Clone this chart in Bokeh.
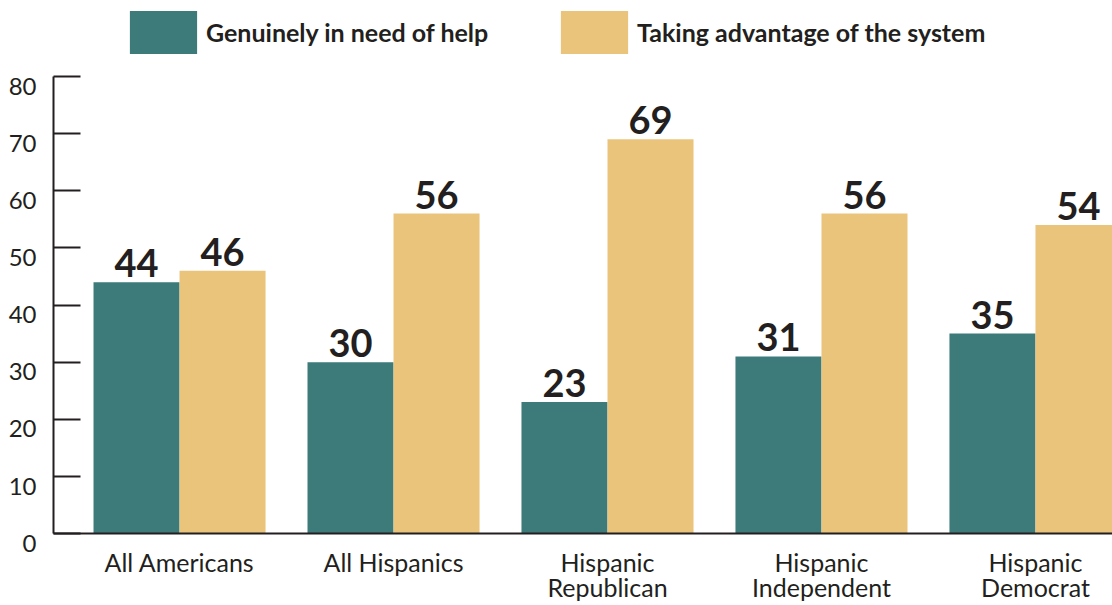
from bokeh.plotting import figure
from bokeh.models import ColumnDataSource, Range1d, FixedTicker, LabelSet
from bokeh.core.properties import value
from bokeh.transform import dodge
from bokeh.embed import file_html
from bokeh.resources import INLINE

categories = ["All Americans", "All Hispanics", "Hispanic Republican", "Hispanic Independent", "Hispanic Democrat"]
tick_labels = ["All Americans", "All Hispanics", "Hispanic\nRepublican", "Hispanic\nIndependent", "Hispanic\nDemocrat"]
series_names = ["Genuinely in need of help", "Taking advantage of the system"]
need_help = [44, 30, 23, 31, 35]
advantage = [46, 56, 69, 56, 54]
y_ticks = [0, 10, 20, 30, 40, 50, 60, 70, 80]

TEAL = "#3d7a7a"
GOLD = "#ebc47c"
INK = "#231f20"

idx = list(range(len(categories)))
src = ColumnDataSource(dict(
    x=idx,
    need=need_help,
    adv=advantage,
    need_txt=[str(v) for v in need_help],
    adv_txt=[str(v) for v in advantage],
))

# frame spans canvas y 0..533; value 80 sits at y=76 (legend lives in the headroom)
y_top = 80 + 76 / (457 / 80)
p = figure(width=1112, height=605, output_backend="svg", toolbar_location=None,
           x_range=Range1d(-0.589, 4.36), y_range=Range1d(0, y_top),
           min_border_left=53, min_border_right=0, min_border_top=0, min_border_bottom=72)
p.outline_line_color = None
p.xgrid.grid_line_color = None
p.ygrid.grid_line_color = None
p.background_fill_color = "white"

bw = 0.402
p.vbar(x=dodge("x", -0.201, range=p.x_range), top="need", width=bw, bottom=0, source=src,
       fill_color=TEAL, line_color=None, legend_label=series_names[0])
p.vbar(x=dodge("x", 0.201, range=p.x_range), top="adv", width=bw, bottom=0, source=src,
       fill_color=GOLD, line_color=None, legend_label=series_names[1])

for fld, off in (("need_txt", -0.201), ("adv_txt", 0.201)):
    ycol = "need" if fld == "need_txt" else "adv"
    p.add_layout(LabelSet(x=dodge("x", off, range=p.x_range), y=ycol, text=fld, source=src,
                          text_align="center", text_baseline="alphabetic", y_offset=5,
                          text_font=value("Lato"), text_font_style="bold", text_font_size="38px",
                          text_color=INK))

# y axis
ya = p.yaxis[0]
ya.bounds = (0, 80)
ya.ticker = FixedTicker(ticks=y_ticks)
ya.major_label_overrides = {v: "\n" + str(v) for v in y_ticks}
ya.major_label_text_line_height = 0.6
ya.minor_tick_line_color = None
ya.major_tick_in = 27
ya.major_tick_out = 0
ya.major_tick_line_width = 2
ya.major_tick_line_color = INK
ya.axis_line_width = 2
ya.axis_line_color = INK
ya.major_label_standoff = 17
ya.major_label_text_font = "Lato"
ya.major_label_text_font_size = "24px"
ya.major_label_text_color = INK

# x axis
xa = p.xaxis[0]
xa.ticker = FixedTicker(ticks=idx)
xa.major_label_overrides = {i: lab for i, lab in zip(idx, tick_labels)}
xa.minor_tick_line_color = None
xa.major_tick_line_color = None
xa.major_tick_in = 0
xa.major_tick_out = 0
xa.axis_line_width = 2
xa.axis_line_color = INK
xa.major_label_standoff = 13
xa.major_label_text_font = "Lato"
xa.major_label_text_font_size = "25px"
xa.major_label_text_line_height = 0.85
xa.major_label_text_color = INK

# legend in the headroom above the 80 mark
lg = p.legend[0]
lg.orientation = "horizontal"
lg.location = (68, 474)
lg.glyph_width = 84
lg.glyph_height = 54
lg.label_standoff = 1
lg.label_width = 300
lg.spacing = 46
lg.padding = 0
lg.margin = 0
lg.border_line_color = None
lg.background_fill_alpha = 0
lg.label_text_font = "Lato"
lg.label_text_font_style = "bold"
lg.label_text_font_size = "25px"
lg.label_text_color = INK
lg.click_policy = "none"

open("out.html", "w").write(file_html(p, INLINE))
